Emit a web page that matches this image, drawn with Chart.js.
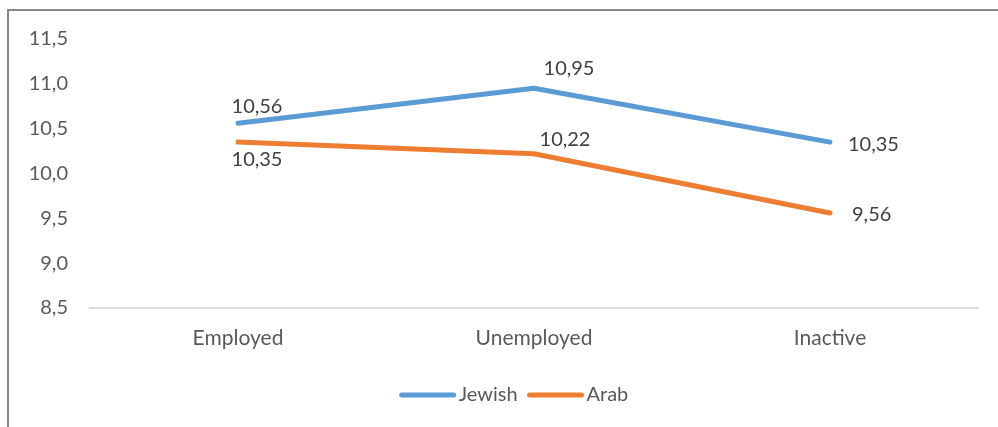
<!DOCTYPE html>
<html>
<head>
<meta charset="utf-8">
<script src="https://cdn.jsdelivr.net/npm/chart.js@4"></script>
<style>
  html, body { margin: 0; padding: 0; background: #fff; }
  #frame {
    position: absolute; left: 7px; top: 9px; right: 0; bottom: 0;
    border-top: 2px solid #878787; border-left: 2px solid #878787;
  }
  #chart { position: absolute; left: 0; top: 0; }
</style>
</head>
<body>
<div id="frame"></div>
<canvas id="chart" width="998" height="427"></canvas>
<script>
// status groups on the x axis
const categories = ["Employed", "Unemployed", "Inactive"];

// mean values per group
const jewishValues = [10.56, 10.95, 10.35];
const arabValues = [10.35, 10.22, 9.56];

// y axis range
const yMin = 8.5;
const yMax = 11.5;
const yStep = 0.5;

const BLUE = "#5b9bd5";
const ORANGE = "#ed7d31";
const FONT = "Lato, 'Open Sans', sans-serif";

// where each value label sits relative to its point: [dx, dy, align]
const labelPlacement = {
  Jewish: [[19, -17, "center"], [35, -20, "center"], [18, 2, "left"]],
  Arab: [[19, 17, "center"], [31, -14, "center"], [22, 2, "left"]]
};

function fmt(v, digits) {
  return v.toFixed(digits).replace(".", ",");
}

// value labels next to the points
const valueLabels = {
  id: "valueLabels",
  afterDatasetsDraw(chart) {
    const ctx = chart.ctx;
    ctx.save();
    ctx.font = "20px " + FONT;
    ctx.fillStyle = "#404040";
    ctx.textBaseline = "middle";
    chart.data.datasets.forEach((ds, di) => {
      const meta = chart.getDatasetMeta(di);
      const place = labelPlacement[ds.label];
      meta.data.forEach((pt, i) => {
        const p = place[i];
        ctx.textAlign = p[2];
        ctx.fillText(fmt(ds.data[i], 2), pt.x + p[0], pt.y + p[1]);
      });
    });
    ctx.restore();
  }
};

// bottom legend: line sample followed by series name
const lineLegend = {
  id: "lineLegend",
  afterDraw(chart) {
    const ctx = chart.ctx;
    const sample = 56, gapText = 3, gapItem = 10;
    ctx.save();
    ctx.font = "20px " + FONT;
    const items = chart.data.datasets.map(ds => ({
      label: ds.label, color: ds.borderColor, w: ctx.measureText(ds.label).width
    }));
    let total = 0;
    items.forEach((it, i) => { total += sample + gapText + it.w + (i ? gapItem : 0); });
    let x = (chart.width + 30) / 2 - total / 2;
    const y = 395;
    items.forEach(it => {
      ctx.strokeStyle = it.color;
      ctx.lineWidth = 5;
      ctx.lineCap = "round";
      ctx.beginPath();
      ctx.moveTo(x + 2, y);
      ctx.lineTo(x + sample - 2, y);
      ctx.stroke();
      x += sample + gapText;
      ctx.fillStyle = "#595959";
      ctx.textAlign = "left";
      ctx.textBaseline = "middle";
      ctx.fillText(it.label, x, y);
      x += it.w + gapItem;
    });
    ctx.restore();
  }
};

new Chart(document.getElementById("chart"), {
  type: "line",
  data: {
    labels: categories,
    datasets: [
      {
        label: "Jewish",
        data: jewishValues,
        borderColor: BLUE,
        backgroundColor: BLUE,
        borderWidth: 5,
        borderCapStyle: "round",
        borderJoinStyle: "round",
        pointRadius: 0,
        tension: 0
      },
      {
        label: "Arab",
        data: arabValues,
        borderColor: ORANGE,
        backgroundColor: ORANGE,
        borderWidth: 5,
        borderCapStyle: "round",
        borderJoinStyle: "round",
        pointRadius: 0,
        tension: 0
      }
    ]
  },
  options: {
    responsive: false,
    animation: false,
    layout: { padding: { left: 0, top: 39, right: 20, bottom: 0 } },
    plugins: {
      legend: { display: false },
      tooltip: { enabled: false }
    },
    scales: {
      x: {
        offset: true,
        grid: { display: false, drawTicks: false },
        border: { display: true, color: "#dcdcdc", width: 2 },
        ticks: { color: "#595959", font: { family: FONT, size: 21 }, padding: 18 },
        afterFit(scale) { scale.height = 119; }
      },
      y: {
        min: yMin,
        max: yMax,
        grid: { display: false, drawTicks: false },
        border: { display: false },
        ticks: {
          stepSize: yStep,
          color: "#595959",
          font: { family: FONT, size: 20 },
          padding: 22,
          callback: v => fmt(v, 1)
        },
        afterFit(scale) { scale.width = 90; }
      }
    }
  },
  plugins: [valueLabels, lineLegend]
});
</script>
</body>
</html>
